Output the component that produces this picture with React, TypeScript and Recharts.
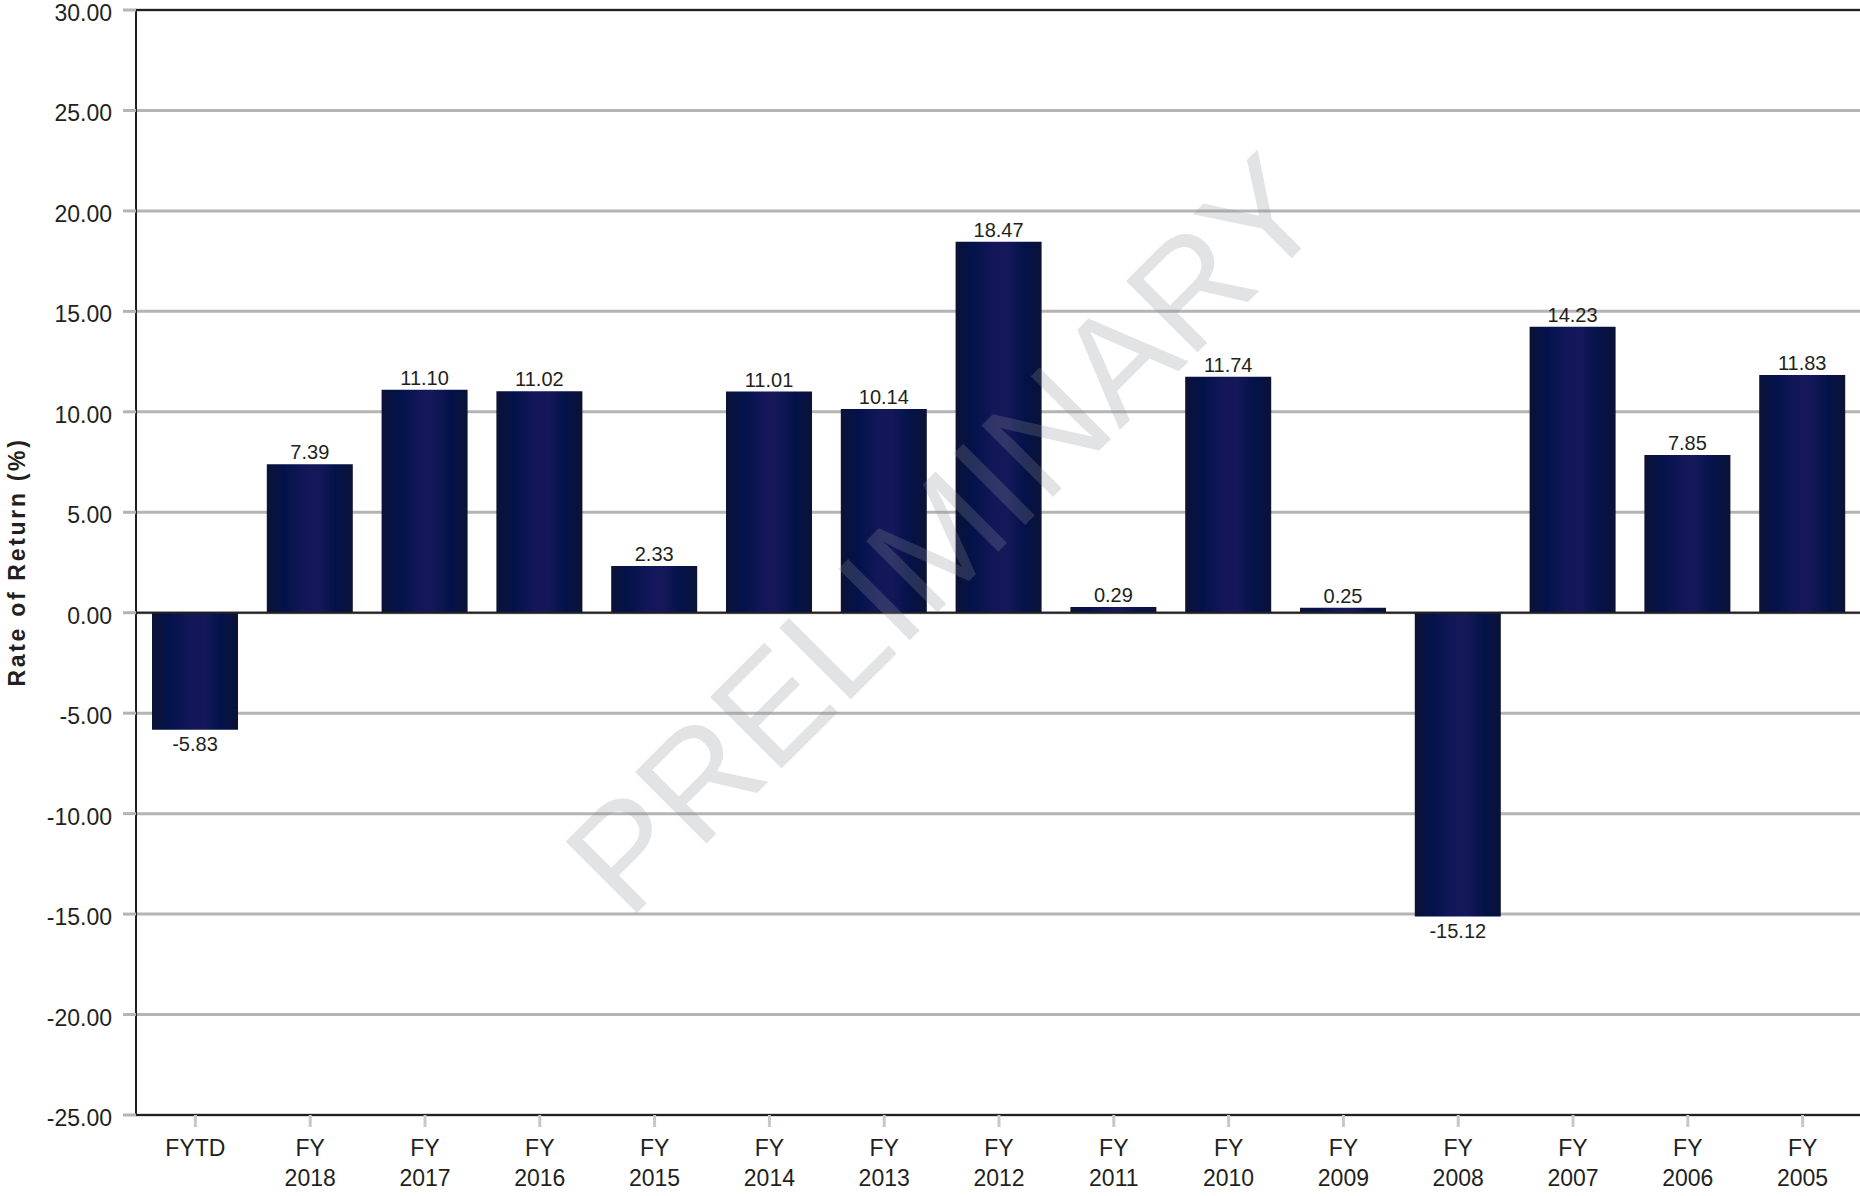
import React from 'react';
import { BarChart, Bar, XAxis, YAxis, CartesianGrid, ReferenceLine, LabelList } from 'recharts';

const categories = ['FYTD', 'FY\n2018', 'FY\n2017', 'FY\n2016', 'FY\n2015', 'FY\n2014', 'FY\n2013', 'FY\n2012', 'FY\n2011', 'FY\n2010', 'FY\n2009', 'FY\n2008', 'FY\n2007', 'FY\n2006', 'FY\n2005'];
const returns = [-5.83, 7.39, 11.1, 11.02, 2.33, 11.01, 10.14, 18.47, 0.29, 11.74, 0.25, -15.12, 14.23, 7.85, 11.83];
const yTicks = [-25, -20, -15, -10, -5, 0, 5, 10, 15, 20, 25, 30];

const data = categories.map((c, i) => ({ name: c, value: returns[i] }));

const FONT = '"Liberation Sans", Arial, Helvetica, sans-serif';
const TEXT = '#231f20';

const XTick = (props: any) => {
  const { x, y, payload } = props;
  const lines = String(payload.value).split('\n');
  return (
    <g>
      {lines.map((l: string, i: number) => (
        <text key={i} x={x} y={y + 29 + i * 30} textAnchor="middle" fontSize={23} fontFamily={FONT} fill={TEXT}>
          {l}
        </text>
      ))}
    </g>
  );
};

const YTick = (props: any) => {
  const { x, y, payload } = props;
  return (
    <text x={x} y={y + 11} textAnchor="end" fontSize={23} fontFamily={FONT} fill={TEXT}>
      {Number(payload.value).toFixed(2)}
    </text>
  );
};

const ValueLabel = (props: any) => {
  const { x, y, width, height, value } = props;
  const v = Number(value);
  const cx = x + width / 2;
  let ty: number;
  if (v >= 0) {
    ty = Math.min(y, y + height) - 5;
  } else {
    ty = Math.max(y, y + height) + 21;
  }
  return (
    <text x={cx} y={ty} textAnchor="middle" fontSize={20} fontFamily={FONT} fill={TEXT}>
      {v.toFixed(2)}
    </text>
  );
};

export default function App() {
  return (
    <div style={{ position: 'absolute', left: 0, top: 0, width: 1860, height: 1196, overflow: 'hidden', background: '#fff' }}>
      <BarChart width={1880} height={1196} data={data} margin={{ top: 10, right: 20, bottom: 0, left: 0 }}>
        <defs>
          <linearGradient id="barGrad" x1="0" y1="0" x2="1" y2="0">
            <stop offset="0" stopColor="#0b1235" />
            <stop offset="0.2" stopColor="#03124b" />
            <stop offset="0.45" stopColor="#131759" />
            <stop offset="0.6" stopColor="#141859" />
            <stop offset="0.8" stopColor="#04124a" />
            <stop offset="1" stopColor="#0a1236" />
          </linearGradient>
        </defs>
        <CartesianGrid vertical={false} stroke="#b4b4b4" strokeWidth={3} />
        <XAxis
          dataKey="name"
          height={81}
          interval={0}
          padding={{ left: 2, right: 0 }}
          tick={<XTick />}
          tickSize={12}
          tickMargin={0}
          axisLine={{ stroke: TEXT, strokeWidth: 2 }}
          tickLine={{ stroke: '#c5c9cd', strokeWidth: 3 }}
        />
        <YAxis
          width={136}
          domain={[-25, 30]}
          ticks={yTicks}
          interval={0}
          allowDataOverflow
          tick={<YTick />}
          tickSize={13}
          tickMargin={11}
          axisLine={{ stroke: TEXT, strokeWidth: 2 }}
          tickLine={{ stroke: '#b4b4b4', strokeWidth: 3 }}
        />
        <ReferenceLine y={30} stroke={TEXT} strokeWidth={2} />
        <Bar dataKey="value" fill="url(#barGrad)" barSize={86} isAnimationActive={false}>
          <LabelList dataKey="value" content={<ValueLabel />} />
        </Bar>
        <ReferenceLine y={0} stroke={TEXT} strokeWidth={2} />
      </BarChart>
      <svg width={1860} height={1196} style={{ position: 'absolute', left: 0, top: 0, pointerEvents: 'none' }}>
        <text
          x={25}
          y={562}
          transform="rotate(-90 25 562)"
          textAnchor="middle"
          fontSize={23}
          fontWeight="bold"
          letterSpacing={2.7}
          fontFamily={FONT}
          fill={TEXT}
        >
          Rate of Return (%)
        </text>
        <text
          x={980}
          y={570}
          transform="rotate(-45 980 570)"
          textAnchor="middle"
          fontSize={147}
          fontFamily={FONT}
          fill="#8a8f99"
          fillOpacity={0.25}
        >
          PRELIMINARY
        </text>
      </svg>
    </div>
  );
}
